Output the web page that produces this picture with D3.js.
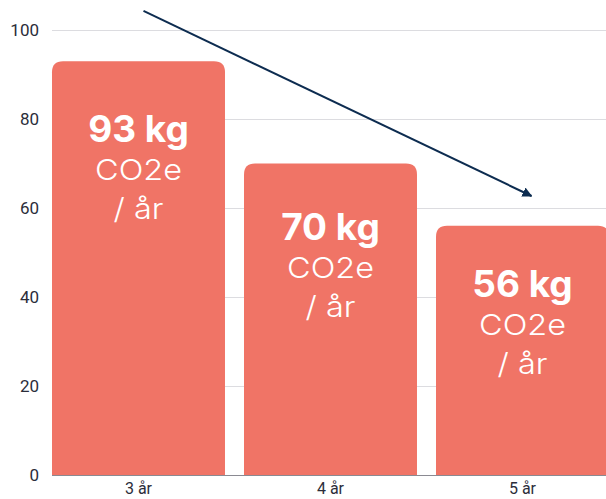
<!DOCTYPE html>
<html>
<head>
<meta charset="utf-8">
<script src="https://cdn.jsdelivr.net/npm/d3@7"></script>
<style>
  body { margin: 0; background: #fff; }
  .tick text { font-family: Roboto, "Liberation Sans", sans-serif; fill: #2b2d3a; }
  .bar-label text { font-family: Inter, "Liberation Sans", Arial, sans-serif; fill: #fff; text-anchor: middle; }
</style>
</head>
<body>
<svg width="606" height="499"></svg>
<script>
const svg = d3.select("svg");

// data
const categories = ["3 år", "4 år", "5 år"];
const values = [93, 70, 56];
const unitLines = ["CO2e", "/ år"];
const yTicks = [0, 20, 40, 60, 80, 100];
// trend arrow, in data terms: [category, value]
const arrowFrom = ["3 år", 104.3];
const arrowTo = ["5 år", 62.7];

const barColor = "#f07466";

const xScale = d3
  .scaleBand()
  .domain(categories)
  .range([42.5, 618.5])
  .paddingInner(0.099)
  .paddingOuter(0.0495);

const yScale = d3.scaleLinear().domain([0, 100]).range([475, 30]);

const g = svg.append("g");

// gridlines
g.selectAll("line.grid")
  .data(yTicks)
  .join("line")
  .attr("class", "grid")
  .attr("x1", 52)
  .attr("x2", 606)
  .attr("y1", (d) => yScale(d) + 0.5)
  .attr("y2", (d) => yScale(d) + 0.5)
  .attr("stroke", (d) => (d === 0 ? "#8a8a92" : "#dcdce0"))
  .attr("stroke-width", 1);

// y axis labels
const yAxisG = g
  .append("g")
  .attr("transform", "translate(52,0)")
  .call(d3.axisLeft(yScale).tickValues(yTicks).tickSize(0).tickPadding(13));
yAxisG.select(".domain").remove();
yAxisG.selectAll(".tick text").style("font-size", "17px");

// x axis labels
const xAxisG = g
  .append("g")
  .attr("transform", `translate(0, ${yScale(0)})`)
  .call(d3.axisBottom(xScale).tickSize(0).tickPadding(8));
xAxisG.select(".domain").remove();
xAxisG.selectAll(".tick text").style("font-size", "16px");

// bars with rounded top corners
const r = 11;
const barPath = (d, i) => {
  const x0 = xScale(categories[i]);
  const x1 = x0 + xScale.bandwidth();
  const y0 = yScale(d);
  const yb = yScale(0);
  return `M${x0},${yb} L${x0},${y0 + r} Q${x0},${y0} ${x0 + r},${y0} L${x1 - r},${y0} Q${x1},${y0} ${x1},${y0 + r} L${x1},${yb} Z`;
};

g.selectAll("path.bar")
  .data(values)
  .join("path")
  .attr("class", "bar")
  .attr("d", barPath)
  .attr("fill", barColor);

// labels inside bars
const labelG = g
  .selectAll("g.bar-label")
  .data(values)
  .join("g")
  .attr("class", "bar-label")
  .attr(
    "transform",
    (d, i) =>
      `translate(${xScale(categories[i]) + xScale.bandwidth() / 2}, ${yScale(d) + 81 - i * 5})`
  );

labelG
  .append("text")
  .style("font-weight", "bold")
  .style("font-size", "37px")
  .text((d) => `${d} kg`);

unitLines.forEach((line, k) => {
  labelG
    .append("text")
    .attr("transform", `translate(0, ${38 + k * 39}) scale(1.12, 1)`)
    .style("font-size", "29px")
    .style("font-weight", "300")
    .text(line);
});

// trend arrow
svg
  .append("defs")
  .append("marker")
  .attr("id", "arrow")
  .attr("viewBox", "0 0 10 10")
  .attr("refX", 9)
  .attr("refY", 5)
  .attr("markerWidth", 5)
  .attr("markerHeight", 5)
  .attr("orient", "auto")
  .append("path")
  .attr("d", "M0,0 L10,5 L0,10 Z")
  .attr("fill", "#0d2c50");

g.append("line")
  .attr("x1", xScale(arrowFrom[0]) + xScale.bandwidth() / 2 + 5)
  .attr("y1", yScale(arrowFrom[1]))
  .attr("x2", xScale(arrowTo[0]) + xScale.bandwidth() / 2 + 9)
  .attr("y2", yScale(arrowTo[1]))
  .attr("stroke", "#0d2c50")
  .attr("stroke-width", 2)
  .attr("marker-end", "url(#arrow)");
</script>
</body>
</html>
